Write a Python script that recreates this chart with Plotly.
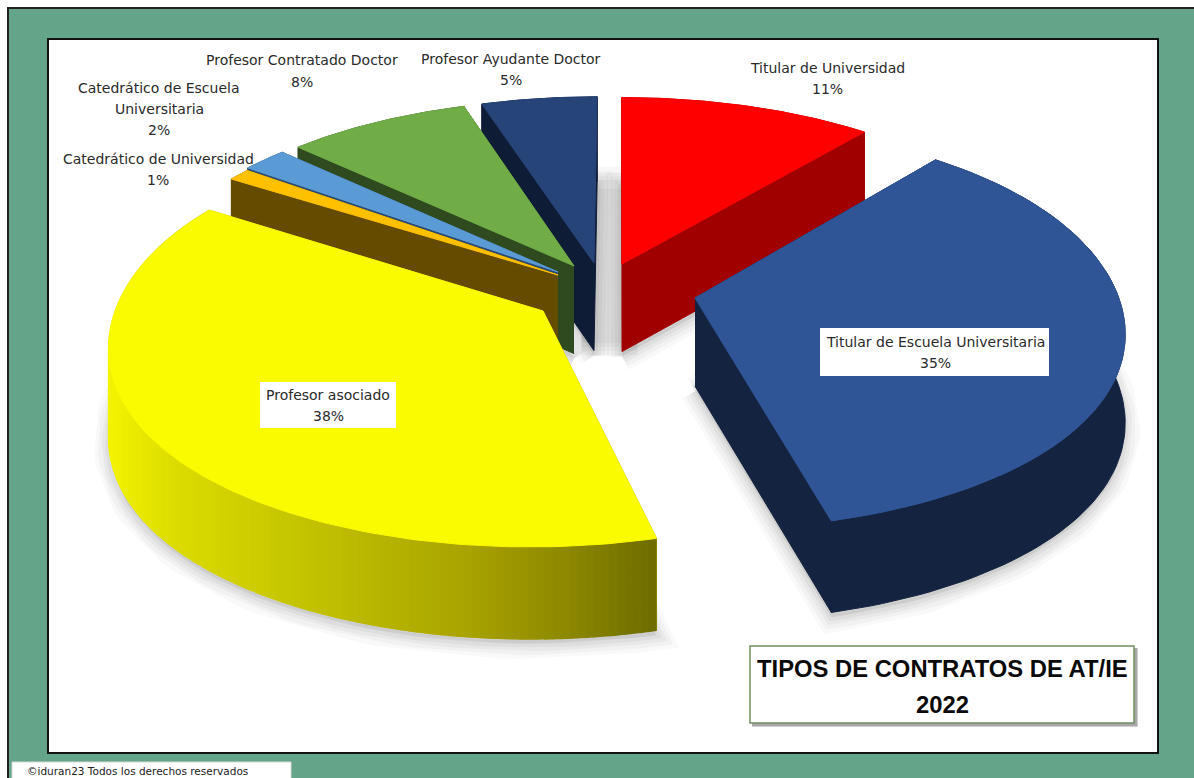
import math
import plotly.graph_objects as go

# ---- data ----
categories = ["Titular de Universidad", "Titular de Escuela Universitaria", "Profesor asociado",
              "Catedrático de Universidad", "Catedrático de Escuela<br>Universitaria",
              "Profesor Contratado Doctor", "Profesor Ayudante Doctor"]
values = [11, 35, 38, 1, 2, 8, 5]
top_colors = ["#FF0000", "#2F5597", "#FAFA00", "#FFC000", "#5B9BD5", "#70AD47", "#264478"]
wall_colors = ["#A00000", "#14233F", "#A0A000", "#654B00", "#2B4A6F", "#2E4A1E", "#0F1C36"]
title_lines = ["TIPOS DE CONTRATOS DE AT/IE", "2022"]
footer_text = "©iduran23 Todos los derechos reservados"

# ---- layout of the 3D projection (pixels of the 1194x778 page) ----
CX, CY, RX, RY, K = 620, 290, 430, 196.5, 0.14
SIDE_FLATTEN = 0.02
APEX = [(622, 264), (695, 298), (543, 311), (558, 275), (558, 272), (574, 266), (594, 263)]
LABEL_POS = [(827, 78.5), (935, 352.5), (328, 405.5), (158, 169.5), (159, 109), (302, 71), (511, 69.5)]
LABEL_BOX = {1: (820, 328, 1049, 376), 2: (260, 382, 396, 428)}
LINE_STEP = 21.3
FONT = "DejaVu Sans"


def wall_height(s):
    return 88 + 22 * (s - 1)


def project(X, Z):
    s = 1 / (1 + K * Z)
    return CX + RX * X * s, CY - RY * Z * s, s


def unproject(px, py):
    v = (CY - py) / RY
    Z = v / (1 - K * v)
    s = 1 / (1 + K * Z)
    return (px - CX) / (RX * s), Z


def rim(apex, theta, r=1.0):
    ax, az = apex
    sn = math.sin(theta)
    return project(ax + r * sn * (1 - SIDE_FLATTEN * sn ** 4), az + r * math.cos(theta))


def lerp_hex(stops, t):
    for (t0, c0), (t1, c1) in zip(stops, stops[1:]):
        if t <= t1:
            f = (t - t0) / (t1 - t0) if t1 > t0 else 0
            a = [int(c0[i:i + 2], 16) for i in (1, 3, 5)]
            b = [int(c1[i:i + 2], 16) for i in (1, 3, 5)]
            return "#%02X%02X%02X" % tuple(round(p + (q - p) * f) for p, q in zip(a, b))
    return stops[-1][1]


YELLOW_WALL = [(0.0, "#F4F400"), (0.12, "#DCDC00"), (0.35, "#C4C400"),
               (0.65, "#AAA400"), (0.85, "#8A8600"), (1.0, "#6E6C00")]


def poly(xs, ys, color, width=1):
    return go.Scatter(x=xs, y=ys, mode="lines", fill="toself", fillcolor=color,
                      line=dict(color=color, width=width), hoverinfo="skip", showlegend=False)


fig = go.Figure()

# angular extents
angles = []
acc = 0
total = sum(values)
for v in values:
    angles.append((acc / total * 2 * math.pi, (acc + v) / total * 2 * math.pi))
    acc += v
ground_apex = [unproject(*a) for a in APEX]


def arc_points(i, n):
    a0, a1 = angles[i]
    return [rim(ground_apex[i], a0 + (a1 - a0) * j / n) for j in range(n + 1)]


# soft shadow below the pie
for i in range(len(values)):
    pts = arc_points(i, 60)
    ap = project(*ground_apex[i])
    xs = [ap[0]] + [p[0] for p in pts] + [ap[0]]
    ys = [ap[1] + wall_height(ap[2]) + 5] + [p[1] + wall_height(p[2]) + 5 for p in pts] + [ap[1] + wall_height(ap[2]) + 5]
    for w, alpha in ((30, 0.025), (22, 0.03), (14, 0.035), (7, 0.04)):
        fig.add_trace(go.Scatter(x=xs, y=ys, mode="lines", fill="toself", fillcolor="rgba(0,0,0,0.02)",
                                 line=dict(color=f"rgba(0,0,0,{alpha})", width=w),
                                 hoverinfo="skip", showlegend=False))
# shadow seen through the gap between the first and the last slices
g0 = project(-0.025, 0.14)
g1 = rim((-0.025, 0.14), 0.0)
for top, bottom in ((g1[1] + 70, 92), (g1[1] + 76, 88), (g1[1] + 83, 84), (g1[1] + 92, 80)):
    fig.add_trace(poly([g0[0] - 28, g0[0] + 28, g0[0] + 28, g0[0] - 28],
                       [g0[1] + bottom, g0[1] + bottom, top, top], "rgba(0,0,0,0.03)", width=0))

# painter's order: back slices first
order = [6, 0, 5, 4, 3, 1, 2]
for i in order:
    strips = 150 if i == 2 else 1
    pts = arc_points(i, 80 if i != 2 else 150)
    ap = project(*ground_apex[i])
    ah = wall_height(ap[2])
    wall = wall_colors[i]
    # two straight cut walls
    for end in (pts[0], pts[-1]):
        fig.add_trace(poly([ap[0], end[0], end[0], ap[0]],
                           [ap[1], end[1], end[1] + wall_height(end[2]), ap[1] + ah], wall))
    # outer curved wall: in strips where it carries a gradient
    if i == 2:
        xmin = min(p[0] for p in pts)
        xmax = max(p[0] for p in pts)
        for p, q in zip(pts, pts[1:]):
            t = ((p[0] + q[0]) / 2 - xmin) / (xmax - xmin)
            fig.add_trace(poly([p[0], q[0], q[0], p[0]],
                               [p[1], q[1], q[1] + wall_height(q[2]), p[1] + wall_height(p[2])],
                               lerp_hex(YELLOW_WALL, t), width=1.5))
    else:
        fig.add_trace(poly([p[0] for p in pts] + [p[0] for p in reversed(pts)],
                           [p[1] for p in pts] + [p[1] + wall_height(p[2]) for p in reversed(pts)], wall))
    # top face
    fig.add_trace(poly([ap[0]] + [p[0] for p in pts] + [ap[0]],
                       [ap[1]] + [p[1] for p in pts] + [ap[1]], top_colors[i], width=1))

annotations = []
for i, (name, val) in enumerate(zip(categories, values)):
    x, y = LABEL_POS[i]
    lines = name.split("<br>") + [f"{val}%"]
    for j, line in enumerate(lines):
        annotations.append(dict(x=x, y=y + (j - (len(lines) - 1) / 2) * LINE_STEP, xref="x", yref="y",
                                text=line, showarrow=False, xanchor="center", yanchor="middle",
                                font=dict(family=FONT, size=14, color="#2A2A2A")))
for j, line in enumerate(title_lines):
    annotations.append(dict(x=942, y=668 + 36 * j, xref="x", yref="y", text="<b>" + line + "</b>", showarrow=False,
                            xanchor="center", yanchor="middle",
                            font=dict(family="Liberation Sans", size=23.8, color="#0A0A0A")))
annotations.append(dict(x=25, y=771, xref="x", yref="y", text=footer_text, showarrow=False,
                        xanchor="left", yanchor="middle",
                        font=dict(family=FONT, size=10.5, color="#222222")))

shapes = [
    dict(type="rect", x0=8, y0=8, x1=1210, y1=800, fillcolor="#64A488", line=dict(color="#222222", width=2), layer="below"),
    dict(type="rect", x0=48, y0=39, x1=1158, y1=753, fillcolor="white", line=dict(color="#111111", width=2), layer="below"),
    dict(type="rect", x0=12, y0=762, x1=291, y1=800, fillcolor="white", line=dict(color="#D8D8D8", width=1), layer="below"),
    dict(type="rect", x0=752, y0=648, x1=1138, y1=727, fillcolor="#D0D0D0", line=dict(width=0), layer="above"),
    dict(type="rect", x0=752, y0=648, x1=1137, y1=726, fillcolor="#A8A8A8", line=dict(width=0), layer="above"),
    dict(type="rect", x0=750, y0=646, x1=1134, y1=723, fillcolor="white", line=dict(color="#6F8F5F", width=1.5), layer="above"),
]
for i, b in LABEL_BOX.items():
    shapes.append(dict(type="rect", x0=b[0], y0=b[1], x1=b[2], y1=b[3], fillcolor="white", line=dict(width=0), layer="above"))

fig.update_layout(
    width=1194, height=778, margin=dict(l=0, r=0, t=0, b=0),
    paper_bgcolor="white", plot_bgcolor="rgba(0,0,0,0)", showlegend=False,
    xaxis=dict(range=[0, 1194], visible=False, fixedrange=True),
    yaxis=dict(range=[778, 0], visible=False, fixedrange=True),
    shapes=shapes, annotations=annotations,
)
fig.write_html("out.html", post_script="document.body.style.margin='0';document.body.style.overflow='hidden';",
               config={"displayModeBar": False})
